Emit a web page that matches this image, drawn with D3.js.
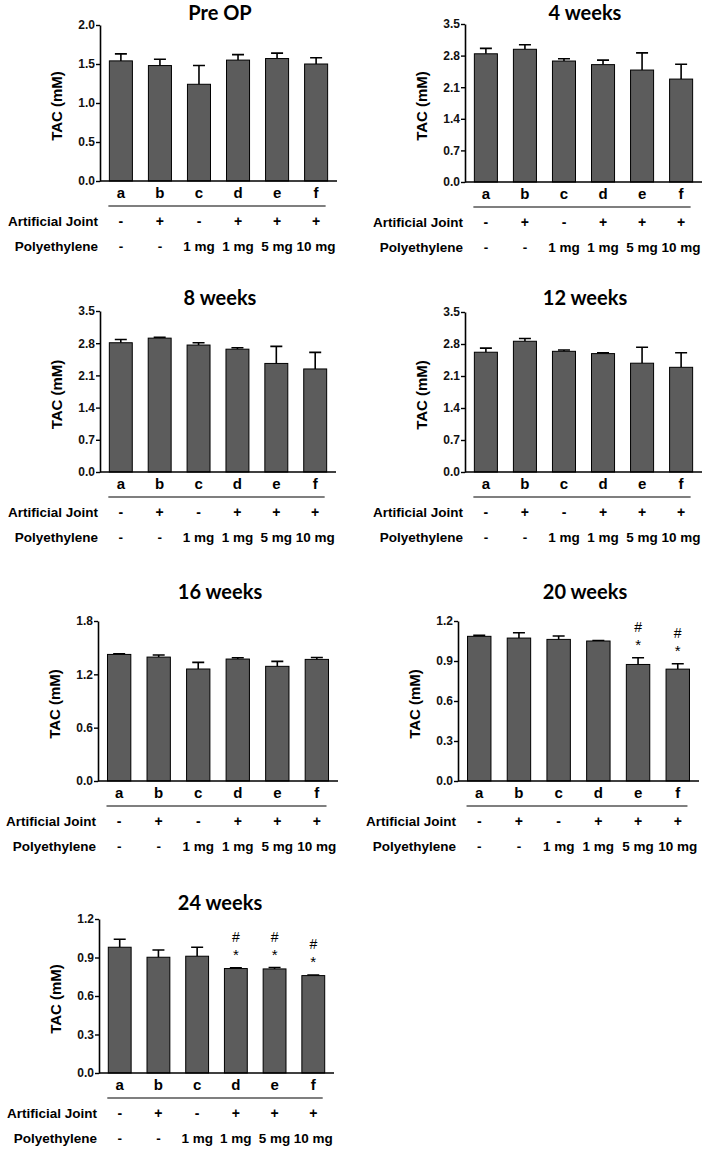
<!DOCTYPE html>
<html>
<head>
<meta charset="utf-8">
<script src="https://cdn.jsdelivr.net/npm/d3@7"></script>
<style>
html,body{margin:0;padding:0;background:#fff;}
svg{display:block;}
svg text{font-family:"Liberation Sans", Arial, Helvetica, sans-serif;}
svg text.title{font-family:Lato, "Open Sans", sans-serif;}
</style>
</head>
<body>
<svg id="chart" width="704" height="1149"></svg>
<script>
// ---------- data ----------
const categories = ["a", "b", "c", "d", "e", "f"];
const artificialJoint = ["-", "+", "-", "+", "+", "+"];
const polyethylene = ["-", "-", "1 mg", "1 mg", "5 mg", "10 mg"];

const titles = ["Pre OP", "4 weeks", "8 weeks", "12 weeks", "16 weeks", "20 weeks", "24 weeks"];

const preOpMeans = [1.54, 1.48, 1.24, 1.55, 1.57, 1.50];
const preOpErr   = [0.09, 0.08, 0.24, 0.07, 0.07, 0.08];
const preOpTicks = [0.0, 0.5, 1.0, 1.5, 2.0];

const wk4Means = [2.84, 2.94, 2.68, 2.60, 2.48, 2.28];
const wk4Err   = [0.12, 0.10, 0.05, 0.10, 0.38, 0.33];
const wk4Ticks = [0.0, 0.7, 1.4, 2.1, 2.8, 3.5];

const wk8Means = [2.81, 2.91, 2.76, 2.67, 2.36, 2.24];
const wk8Err   = [0.07, 0.02, 0.05, 0.03, 0.37, 0.36];
const wk8Ticks = [0.0, 0.7, 1.4, 2.1, 2.8, 3.5];

const wk12Means = [2.62, 2.86, 2.64, 2.59, 2.38, 2.29];
const wk12Err   = [0.09, 0.06, 0.03, 0.015, 0.35, 0.32];
const wk12Ticks = [0.0, 0.7, 1.4, 2.1, 2.8, 3.5];

const wk16Means = [1.424, 1.394, 1.26, 1.372, 1.29, 1.368];
const wk16Err   = [0.008, 0.023, 0.075, 0.015, 0.056, 0.022];
const wk16Ticks = [0.0, 0.6, 1.2, 1.8];

const wk20Means = [1.085, 1.072, 1.062, 1.050, 0.874, 0.839];
const wk20Err   = [0.007, 0.040, 0.025, 0.003, 0.050, 0.040];
const wk20Ticks = [0.0, 0.3, 0.6, 0.9, 1.2];
const wk20Sig   = ["", "", "", "", "*#", "*#"];

const wk24Means = [0.980, 0.902, 0.910, 0.814, 0.811, 0.759];
const wk24Err   = [0.062, 0.057, 0.070, 0.005, 0.011, 0.005];
const wk24Ticks = [0.0, 0.3, 0.6, 0.9, 1.2];
const wk24Sig   = ["", "", "", "*#", "*#", "*#"];

const noSig = ["", "", "", "", "", ""];

// ---------- layout ----------
const panels = [
  {title: titles[0], means: preOpMeans, err: preOpErr, ticks: preOpTicks, sig: noSig,
   x0: 100, x1: 337, yTop: 25, yBot: 181, titleY: 13, titleX: 220},
  {title: titles[1], means: wk4Means, err: wk4Err, ticks: wk4Ticks, sig: noSig,
   x0: 465, x1: 702, yTop: 24, yBot: 182, titleY: 13, titleX: 585},
  {title: titles[2], means: wk8Means, err: wk8Err, ticks: wk8Ticks, sig: noSig,
   x0: 100, x1: 336, yTop: 311, yBot: 472, titleY: 298, titleX: 220},
  {title: titles[3], means: wk12Means, err: wk12Err, ticks: wk12Ticks, sig: noSig,
   x0: 465, x1: 702, yTop: 312, yBot: 472, titleY: 298, titleX: 585},
  {title: titles[4], means: wk16Means, err: wk16Err, ticks: wk16Ticks, sig: noSig,
   x0: 98, x1: 338, yTop: 621, yBot: 781, titleY: 592, titleX: 220},
  {title: titles[5], means: wk20Means, err: wk20Err, ticks: wk20Ticks, sig: wk20Sig,
   x0: 458, x1: 699, yTop: 621, yBot: 781, titleY: 592, titleX: 585},
  {title: titles[6], means: wk24Means, err: wk24Err, ticks: wk24Ticks, sig: wk24Sig,
   x0: 99, x1: 334, yTop: 919, yBot: 1073, titleY: 903, titleX: 220}
];

const svg = d3.select("#chart");

panels.forEach(p => {
  const g = svg.append("g");
  const x = d3.scaleBand().domain(categories).range([p.x0, p.x1]).paddingInner(0.41).paddingOuter(0.24);
  const y = d3.scaleLinear().domain([p.ticks[0], p.ticks[p.ticks.length - 1]]).range([p.yBot, p.yTop]);

  // title
  g.append("text").attr("class", "title").attr("x", p.titleX).attr("y", p.titleY).attr("dy", "0.35em")
    .attr("text-anchor", "middle")
    .attr("font-weight", "bold").attr("font-size", 20).attr("fill", "#000").text(p.title);

  // y label
  g.append("text")
    .attr("transform", `translate(${p.x0 - 43},${(p.yTop + p.yBot) / 2 + 3}) rotate(-90)`)
    .attr("text-anchor", "middle").attr("dy", "0.35em")
    .attr("font-weight", "bold").attr("font-size", 15)
    .text("TAC (mM)");

  // error bars (up only)
  const capW = 12;
  g.selectAll(".err").data(categories).enter().append("path")
    .attr("d", (c, i) => {
      const cx = x(c) + x.bandwidth() / 2;
      const yt = y(p.means[i] + p.err[i]);
      const ym = y(p.means[i]);
      return `M${cx},${ym}V${yt}M${cx - capW / 2},${yt}H${cx + capW / 2}`;
    })
    .attr("stroke", "#000").attr("stroke-width", 1.6).attr("fill", "none");

  // bars
  g.selectAll(".bar").data(categories).enter().append("rect")
    .attr("x", c => x(c)).attr("width", x.bandwidth())
    .attr("y", (c, i) => y(p.means[i]))
    .attr("height", (c, i) => p.yBot - y(p.means[i]))
    .attr("fill", "#5c5c5c").attr("stroke", "#000").attr("stroke-width", 1);

  // significance marks
  categories.forEach((c, i) => {
    if (!p.sig[i]) return;
    const cx = x(c) + x.bandwidth() / 2;
    const yt = y(p.means[i] + p.err[i]);
    g.append("text").attr("x", cx).attr("y", yt - 8).attr("text-anchor", "middle")
      .attr("font-size", 15).text("*");
    g.append("text").attr("x", cx).attr("y", yt - 26).attr("text-anchor", "middle")
      .attr("font-size", 14).text("#");
  });

  // y axis
  const yAxis = d3.axisLeft(y).tickValues(p.ticks).tickFormat(d3.format(".1f")).tickSize(4).tickSizeOuter(0);
  const ya = g.append("g").attr("transform", `translate(${p.x0},0)`).call(yAxis);
  ya.attr("font-family", null);
  ya.select(".domain").attr("stroke-width", 1.6);
  ya.selectAll(".tick line").attr("stroke-width", 1.4);
  ya.selectAll(".tick text").attr("font-weight", "bold")
    .attr("font-size", 12).attr("fill", "#111").attr("x", -5);

  // x axis line
  const xa = g.append("g").attr("transform", `translate(0,${p.yBot})`)
    .call(d3.axisBottom(x).tickSize(0).tickPadding(6));
  xa.attr("font-family", null);
  xa.select(".domain").attr("d", `M${p.x0},0H${p.x1}`).attr("stroke-width", 1.6);
  xa.selectAll(".tick text").attr("font-weight", "bold")
    .attr("font-size", 15).attr("fill", "#000");

  // underline
  const first = x(categories[0]);
  const last = x(categories[categories.length - 1]) + x.bandwidth();
  g.append("line").attr("x1", first - 1).attr("x2", last - 2)
    .attr("y1", p.yBot + 25).attr("y2", p.yBot + 25)
    .attr("stroke", "#000").attr("stroke-width", 1.2);

  // row labels
  const rowAJ = p.yBot + 40, rowPE = p.yBot + 65;
  g.append("text").attr("x", p.x0 - 2).attr("y", rowAJ).attr("dy", "0.35em").attr("text-anchor", "end")
    .attr("font-weight", "bold").attr("font-size", 13.5).text("Artificial Joint");
  g.append("text").attr("x", p.x0 - 2).attr("y", rowPE).attr("dy", "0.35em").attr("text-anchor", "end")
    .attr("font-weight", "bold").attr("font-size", 13.5).text("Polyethylene");

  categories.forEach((c, i) => {
    const cx = x(c) + x.bandwidth() / 2;
    g.append("text").attr("x", cx).attr("y", rowAJ).attr("dy", "0.35em").attr("text-anchor", "middle")
      .attr("font-weight", "bold").attr("font-size", 14).text(artificialJoint[i]);
    g.append("text").attr("x", cx).attr("y", rowPE).attr("dy", "0.35em").attr("text-anchor", "middle")
      .attr("font-weight", "bold").attr("font-size", 13.5).text(polyethylene[i]);
  });
});
</script>
</body>
</html>
